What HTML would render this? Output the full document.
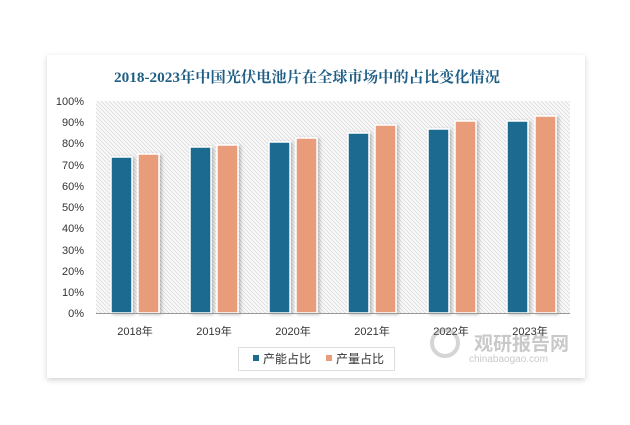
<!DOCTYPE html>
<html><head><meta charset="utf-8"><style>
html,body{margin:0;padding:0;background:#fff;}
svg text{font-family:"Liberation Sans","Noto Sans CJK SC",sans-serif;}
</style></head><body>
<svg width="630" height="420" viewBox="0 0 630 420" xmlns="http://www.w3.org/2000/svg">
<defs>
<pattern id="h" patternUnits="userSpaceOnUse" width="4" height="4">
<rect width="4" height="4" fill="#fafafa"/>
<path d="M-1,-1 L5,5 M-1,3 L1,5 M3,-1 L5,1" stroke="#dcdcdc" stroke-width="0.9"/>
</pattern>
<filter id="sh" x="-10%" y="-10%" width="120%" height="120%"><feDropShadow dx="0" dy="2" stdDeviation="3" flood-color="#000" flood-opacity="0.18"/></filter>
<filter id="bs" x="-30%" y="-10%" width="160%" height="120%"><feDropShadow dx="2" dy="1" stdDeviation="1.5" flood-color="#000" flood-opacity="0.25"/></filter>
</defs>
<rect x="47" y="55" width="538" height="323" fill="#fff" filter="url(#sh)"/>
<text x="307" y="82" text-anchor="middle" font-size="15" font-weight="bold" fill="#1f5f86" textLength="386" lengthAdjust="spacingAndGlyphs" style="font-family:'Liberation Serif','Noto Serif CJK SC',serif">2018-2023年中国光伏电池片在全球市场中的占比变化情况</text>
<rect x="96" y="101" width="474" height="212" fill="url(#h)"/>
<g font-size="11" fill="#333" text-anchor="end">
<text x="84" y="105">100%</text><text x="84" y="126">90%</text><text x="84" y="147">80%</text><text x="84" y="169">70%</text><text x="84" y="190">60%</text><text x="84" y="211">50%</text><text x="84" y="232">40%</text><text x="84" y="254">30%</text><text x="84" y="275">20%</text><text x="84" y="296">10%</text><text x="84" y="317">0%</text>
</g>
<g stroke="#fff" stroke-width="1.5" filter="url(#bs)">
<rect x="111" y="157" width="21" height="156" fill="#1d6a8f"/><rect x="138" y="154" width="21" height="159" fill="#e89c7a"/>
<rect x="190" y="147" width="21" height="166" fill="#1d6a8f"/><rect x="217" y="145" width="21" height="168" fill="#e89c7a"/>
<rect x="269" y="142" width="21" height="171" fill="#1d6a8f"/><rect x="296" y="138" width="21" height="175" fill="#e89c7a"/>
<rect x="348" y="133" width="21" height="180" fill="#1d6a8f"/><rect x="375" y="125" width="21" height="188" fill="#e89c7a"/>
<rect x="428" y="129" width="21" height="184" fill="#1d6a8f"/><rect x="455" y="121" width="21" height="192" fill="#e89c7a"/>
<rect x="507" y="121" width="21" height="192" fill="#1d6a8f"/><rect x="535" y="116" width="21" height="197" fill="#e89c7a"/>
</g>
<line x1="96" y1="313.5" x2="570" y2="313.5" stroke="#999" stroke-width="1"/>
<g font-size="11" fill="#333" text-anchor="middle">
<text x="135" y="335">2018年</text><text x="214" y="335">2019年</text><text x="293" y="335">2020年</text><text x="372" y="335">2021年</text><text x="451" y="335">2022年</text><text x="530" y="335">2023年</text>
</g>
<rect x="238.5" y="347.5" width="156" height="23" fill="#fff" stroke="#ddd"/>
<rect x="253" y="355" width="6" height="6" fill="#1d6a8f"/>
<text x="263" y="363" font-size="12" fill="#333">产能占比</text>
<rect x="326" y="355" width="6" height="6" fill="#e89c7a"/>
<text x="336" y="363" font-size="12" fill="#333">产量占比</text>
<g opacity="0.35">
<circle cx="445" cy="343" r="13" fill="none" stroke="#888" stroke-width="4"/>
<text x="474" y="350" font-size="19" font-weight="bold" fill="#666">观研报告网</text>
<text x="469" y="362" font-size="10" fill="#666">chinabaogao.com</text>
</g>
</svg>
</body></html>
